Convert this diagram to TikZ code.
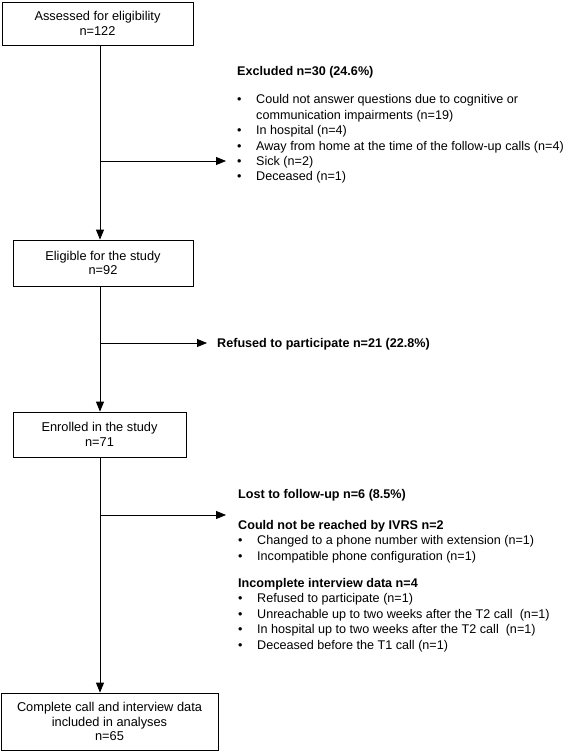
\documentclass[tikz,border=0pt]{standalone}
\usepackage{fontspec}
\setmainfont{Liberation Sans}
\usetikzlibrary{arrows.meta}
\newcommand\bul{\makebox[19pt][l]{•}}
\newcommand\ind{\hspace*{19pt}}
\begin{document}
\begin{tikzpicture}[x=1pt,y=-1pt,
  box/.style={draw, line width=0.8pt, align=center, inner sep=0pt, font=\fontsize{12.8}{14.5}\selectfont},
  arr/.style={line width=0.8pt, -{Triangle[length=10pt,width=8pt]}},
  txt/.style={align=left, inner sep=0pt, anchor=base west, font=\fontsize{12.6}{15.4}\selectfont}]
\useasboundingbox (0,0) rectangle (567,751);
\node[box, minimum width=191pt, minimum height=43pt] (b1) at (97.5,23.5) {Assessed for eligibility\\n=122};
\node[box, minimum width=180pt, minimum height=46pt] (b2) at (103,263) {Eligible for the study\\n=92};
\node[box, minimum width=173pt, minimum height=45pt] (b3) at (99.5,434.5) {Enrolled in the study\\n=71};
\node[box, minimum width=217pt, minimum height=57pt] (b4) at (109.5,721.5) {Complete call and interview data\\included in analyses\\n=65};
% base anchor = baseline of the last line
\node[txt] (excl) at (237,181) {\textbf{Excluded n=30 (24.6\%)}\\[12.6pt]
\bul Could not answer questions due to cognitive or\\
\ind communication impairments (n=19)\\
\bul In hospital (n=4)\\
\bul Away from home at the time of the follow-up calls (n=4)\\
\bul Sick (n=2)\\
\bul Deceased (n=1)};
\node[txt] (ref) at (217,347) {\textbf{Refused to participate n=21 (22.8\%)}};
\node[txt] (lost) at (238,649) {\textbf{Lost to follow-up n=6 (8.5\%)}\\[15.6pt]
\textbf{Could not be reached by IVRS n=2}\\
\bul Changed to a phone number with extension (n=1)\\
\bul Incompatible phone configuration (n=1)\\[12pt]
\textbf{Incomplete interview data n=4}\\
\bul Refused to participate (n=1)\\
\bul Unreachable up to two weeks after the T2 call\ \ (n=1)\\
\bul In hospital up to two weeks after the T2 call\ \ (n=1)\\
\bul Deceased before the T1 call (n=1)};
\coordinate (j1) at (100,161);
\coordinate (t1) at (226,161);
\coordinate (j2) at (100,343);
\coordinate (t2) at (207,343);
\coordinate (j3) at (100,515);
\coordinate (t3) at (226,515);
\draw[arr] (b1.south -| j1) -- (b2.north -| j1);
\draw[arr] (j1) -- (t1);
\draw[arr] (b2.south -| j2) -- (b3.north -| j2);
\draw[arr] (j2) -- (t2);
\draw[arr] (b3.south -| j3) -- (b4.north -| j3);
\draw[arr] (j3) -- (t3);
\end{tikzpicture}
\end{document}
